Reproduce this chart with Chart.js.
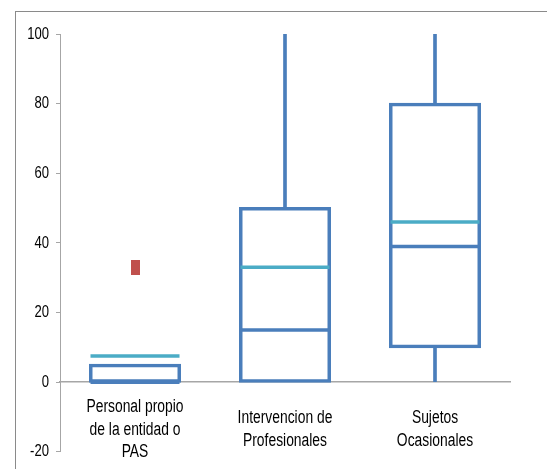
<!DOCTYPE html>
<html>
<head>
<meta charset="utf-8">
<script src="https://cdn.jsdelivr.net/npm/chart.js@4.4.1/dist/chart.umd.min.js"></script>
<style>
  html, body { margin: 0; padding: 0; background: #fff; }
  #wrap { position: relative; width: 547px; height: 469px; }
  #frame { position: absolute; left: 15px; top: 11px; right: -2px; bottom: -2px;
           border-left: 1.5px solid #8a8a8a; border-top: 1.5px solid #8a8a8a; pointer-events: none; }
  canvas { position: absolute; left: 0; top: 0; }
</style>
</head>
<body>
<div id="wrap">
  <canvas id="c" width="547" height="469"></canvas>
  <div id="frame"></div>
</div>
<script>
// Categories and box-plot statistics
const categories = [
  ['Personal propio', 'de la entidad o', 'PAS'],
  ['Intervencion de', 'Profesionales'],
  ['Sujetos', 'Ocasionales']
];
const minValues    = [0, 0, 0];
const q1Values     = [0, 0, 10];
const medianValues = [0, 15, 39];
const q3Values     = [5, 50, 80];
const maxValues    = [5, 100, 100];
const meanValues   = [7.5, 33, 46];
const outlierValues = [33, null, null];
const yTicks = [-20, 0, 20, 40, 60, 80, 100];

const BLUE = '#4a7ebb';
const AQUA = '#4bacc6';
const RED  = '#c0504d';
const FONT = "'Liberation Sans', Arial, sans-serif";
const TEXT_SQUEEZE = 0.77;   // narrow lettering

// Small rectangular marker for outliers
const outlierMarker = document.createElement('canvas');
outlierMarker.width = 9; outlierMarker.height = 15;
(function () {
  const g = outlierMarker.getContext('2d');
  g.fillStyle = RED;
  g.fillRect(0, 0, 9, 15);
})();

// Draws all chart text horizontally condensed around its anchor point
const narrowText = {
  id: 'narrowText',
  beforeInit(chart) {
    const ctx = chart.ctx;
    const fill = ctx.fillText.bind(ctx);
    ctx.fillText = function (text, x, y) {
      ctx.save();
      ctx.translate(x, y);
      ctx.scale(TEXT_SQUEEZE, 1);
      fill(text, 0, 0);
      ctx.restore();
    };
  }
};

const boxes = q1Values.map((q1, i) => [q1, q3Values[i]]);
const upperWhisker = q3Values.map((q3, i) => maxValues[i] > q3 ? [q3, maxValues[i]] : null);
const lowerWhisker = q1Values.map((q1, i) => minValues[i] < q1 ? [minValues[i], q1] : null);

const hLine = (data, color, order) => ({
  type: 'line',
  data,
  showLine: false,
  pointStyle: 'line',
  pointRadius: 44.5,
  pointHoverRadius: 44.5,
  pointBorderWidth: 3.5,
  pointBorderColor: color,
  pointBackgroundColor: color,
  order
});

new Chart(document.getElementById('c'), {
  data: {
    labels: categories,
    datasets: [
      {
        type: 'bar', data: boxes, grouped: false,
        backgroundColor: 'rgba(0,0,0,0)', borderColor: BLUE, borderWidth: 1.5,
        borderSkipped: false, inflateAmount: 1,
        barPercentage: 0.6, categoryPercentage: 1, order: 3
      },
      {
        type: 'bar', data: upperWhisker, grouped: false,
        backgroundColor: BLUE, borderWidth: 0, barThickness: 3, order: 4
      },
      {
        type: 'bar', data: lowerWhisker, grouped: false,
        backgroundColor: BLUE, borderWidth: 0, barThickness: 3, order: 4
      },
      hLine(medianValues, BLUE, 2),
      hLine(meanValues, AQUA, 1),
      {
        type: 'line', data: outlierValues, showLine: false,
        pointStyle: outlierMarker, pointRadius: 5, order: 0
      }
    ]
  },
  plugins: [narrowText],
  options: {
    responsive: false,
    animation: false,
    events: [],
    layout: { autoPadding: false, padding: { left: 0, right: 37, top: 34, bottom: 17 } },
    plugins: { legend: { display: false }, tooltip: { enabled: false } },
    scales: {
      x: {
        type: 'category',
        position: { y: 0 },
        offset: true,
        afterFit: s => { s.height = 0; s.paddingLeft = 0; s.paddingRight = 0; },
        grid: { display: false, drawTicks: false },
        border: { display: true, color: '#a6a6a6', width: 1.5 },
        ticks: {
          color: '#000', padding: 25, maxRotation: 0, autoSkip: false,
          crossAlign: 'center',
          font: { family: FONT, size: 18, lineHeight: 1.25 }
        }
      },
      y: {
        min: -20, max: 100,
        afterFit: s => { s.width = 60; },
        afterBuildTicks: s => { s.ticks = yTicks.map(v => ({ value: v })); },
        grid: { display: true, drawOnChartArea: false, drawTicks: true, tickLength: 4, color: '#a6a6a6' },
        border: { display: true, color: '#a6a6a6', width: 1 },
        ticks: {
          color: '#000', padding: 7,
          font: { family: FONT, size: 17 }
        }
      }
    }
  }
});
</script>
</body>
</html>
